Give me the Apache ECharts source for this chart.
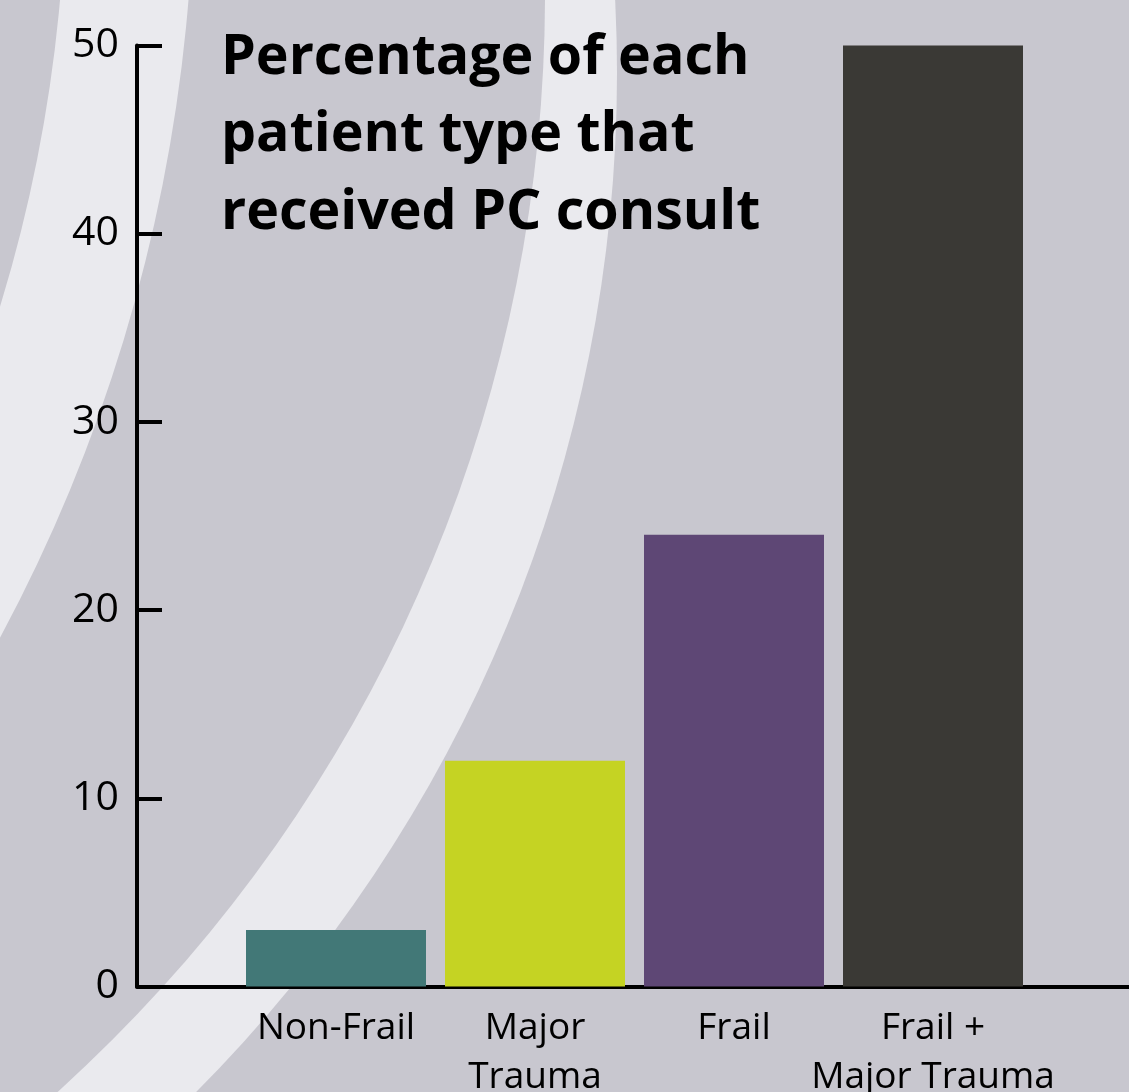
<!DOCTYPE html>
<html>
<head>
<meta charset="utf-8">
<title>PC consult by patient type</title>
<script src="https://cdn.jsdelivr.net/npm/echarts@6/dist/echarts.min.js"></script>
<style>
  html, body { margin: 0; padding: 0; background: #c8c7cf; overflow: hidden; }
  #chart { width: 1129px; height: 1092px; }
</style>
</head>
<body>
<div id="chart"></div>
<script>
// Patient groups and the share of each that received a palliative care consult (%)
const categories = ['Non-Frail', 'Major\nTrauma', 'Frail', 'Frail +\nMajor Trauma'];
const percentages = [3, 12, 24, 50];
const barColors = ['#427877', '#c5d323', '#5e4775', '#3a3935'];
const yMin = 0;
const yMax = 50;
const yStep = 10;
const titleText = 'Percentage of each\npatient type that\nreceived PC consult';

const BG = '#c8c7cf';
const LIGHT = '#eaeaee';
const FONT = '"Open Sans", "Noto Sans", sans-serif';

// Empty slots at both ends so bars sit one band in from the axes
const axisCategories = [''].concat(categories, ['']);
const barData = percentages.map((v, i) => ({
  value: [i + 1, v],
  itemStyle: { color: barColors[i] }
}));

const chart = echarts.init(document.getElementById('chart'), null, { renderer: 'canvas' });

chart.setOption({
  backgroundColor: BG,
  animation: false,
  graphic: {
    elements: [
      // wide sweeping band
      { type: 'circle', z: -10, silent: true, shape: { cx: -827, cy: 73, r: 1444 }, style: { fill: LIGHT } },
      { type: 'circle', z: -9, silent: true, shape: { cx: -933, cy: -5, r: 1478 }, style: { fill: BG } },
      // inner band near the top-left
      { type: 'ring', z: -8, silent: true, shape: { cx: -1438, cy: -134, r: 1632, r0: 1504 }, style: { fill: LIGHT } }
    ]
  },
  title: {
    text: titleText,
    left: 221,
    top: 19,
    padding: 0,
    textStyle: {
      fontFamily: FONT,
      fontSize: 55.5,
      fontWeight: 'bold',
      color: '#000',
      lineHeight: 77.5
    }
  },
  grid: {
    left: 137,
    right: -3,
    top: 45.5,
    bottom: 105.5,
    containLabel: false,
    outerBoundsMode: 'none'
  },
  xAxis: {
    type: 'category',
    data: axisCategories,
    boundaryGap: false,
    axisLine: { show: true, lineStyle: { color: '#000', width: 4 } },
    axisTick: { show: false },
    splitLine: { show: false },
    axisLabel: {
      interval: 0,
      margin: 17,
      fontFamily: FONT,
      fontSize: 37,
      lineHeight: 49,
      color: '#000'
    }
  },
  yAxis: {
    type: 'value',
    min: yMin,
    max: yMax,
    interval: yStep,
    axisLine: { show: true, lineStyle: { color: '#000', width: 4 } },
    axisTick: { show: true, inside: true, length: 25, lineStyle: { color: '#000', width: 4 } },
    splitLine: { show: false },
    axisLabel: {
      margin: 18,
      fontFamily: FONT,
      fontSize: 41,
      color: '#000'
    }
  },
  series: [{
    type: 'bar',
    data: barData,
    barWidth: 180,
    z: 1
  }]
});
</script>
</body>
</html>
